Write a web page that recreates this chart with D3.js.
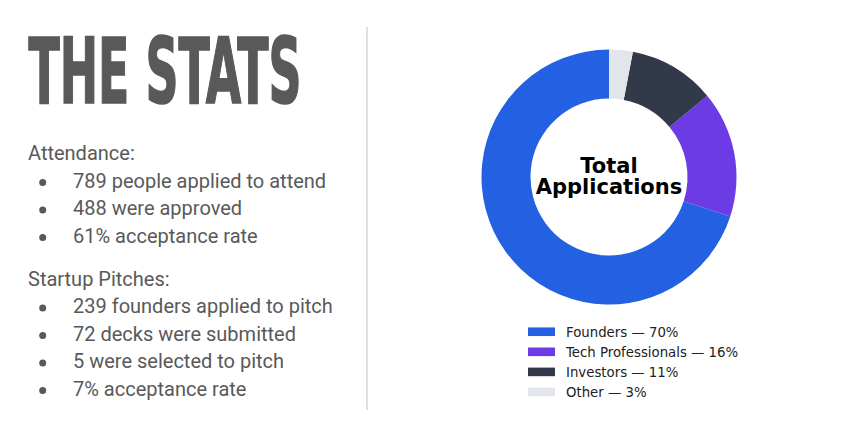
<!DOCTYPE html>
<html><head><meta charset="utf-8">
<script src="https://cdn.jsdelivr.net/npm/d3@7/dist/d3.min.js"></script>
<style>html,body{margin:0;padding:0;background:#fff;}svg{display:block;}</style>
</head><body>
<svg id="c" width="868" height="438"></svg>
<script>
// ---- data ----
const title = "THE STATS";
const attendanceHeader = "Attendance:";
const attendanceItems = ["789 people applied to attend", "488 were approved", "61% acceptance rate"];
const pitchHeader = "Startup Pitches:";
const pitchItems = ["239 founders applied to pitch", "72 decks were submitted", "5 were selected to pitch", "7% acceptance rate"];
const categories = ["Founders", "Tech Professionals", "Investors", "Other"];
const shares = [70, 16, 11, 3];
const centerLabel = ["Total", "Applications"];

// ---- styles ----
const palette = ["#2361e2", "#6d3be6", "#323a49", "#e2e5ea"];
const grey = "#595959";

const svg = d3.select("#c");

// title
svg.append("text").attr("x", 28.5).attr("y", 102.5)
  .attr("font-family", "'DejaVu Sans Condensed','DejaVu Sans',sans-serif")
  .attr("font-weight", "bold").attr("font-size", 90)
  .attr("textLength", 273).attr("lengthAdjust", "spacingAndGlyphs")
  .attr("fill", grey).attr("stroke", grey).attr("stroke-width", 1.6)
  .attr("stroke-linejoin", "miter").text(title);

// lists
function block(header, items, y0) {
  const g = svg.append("g").attr("font-family", "Roboto, sans-serif").attr("fill", grey);
  g.append("text").attr("x", 28).attr("y", y0).attr("font-size", 20).text(header);
  items.forEach((t, i) => {
    const y = y0 + 27.5 * (i + 1);
    g.append("circle").attr("cx", 42.7).attr("cy", y - 5).attr("r", 3.5);
    g.append("text").attr("x", 73).attr("y", y).attr("font-size", 20).text(t);
  });
}
block(attendanceHeader, attendanceItems, 160);
block(pitchHeader, pitchItems, 285.5);

// divider
svg.append("line").attr("x1", 367).attr("x2", 367).attr("y1", 27).attr("y2", 410)
  .attr("stroke", "#d6d6d6").attr("stroke-width", 1.5);

// donut
const cx = 609, cy = 177, R = 127.5, r = 78.5;
const pie = d3.pie().sort(null).value(d => d).startAngle(0).endAngle(-2 * Math.PI);
const arc = d3.arc().innerRadius(r).outerRadius(R);
const dg = svg.append("g").attr("transform", `translate(${cx},${cy})`);
dg.selectAll("path").data(pie(shares)).join("path")
  .attr("d", arc).attr("fill", (d, i) => palette[i]);

const ct = dg.append("text").attr("text-anchor", "middle")
  .attr("font-family", "'DejaVu Sans', sans-serif").attr("font-weight", "bold")
  .attr("font-size", 21).attr("fill", "#000");
ct.selectAll("tspan").data(centerLabel).join("tspan")
  .attr("x", 0).attr("y", (d, i) => -4.5 + i * 21).text(d => d);

// legend
const ly = d3.scaleBand().domain(categories).range([321.7, 402]);
const lg = svg.append("g");
categories.forEach((c, i) => {
  const yc = ly(c) + ly.bandwidth() / 2;
  lg.append("rect").attr("x", 528).attr("y", yc - 4.3).attr("width", 27).attr("height", 8.6).attr("fill", palette[i]);
  lg.append("text").attr("x", 566).attr("y", yc).attr("dy", "0.36em")
    .attr("font-family", "'DejaVu Sans', sans-serif").attr("font-size", 13.3).attr("fill", "#222")
    .text(`${c} — ${shares[i]}%`);
});
</script>
</body></html>
